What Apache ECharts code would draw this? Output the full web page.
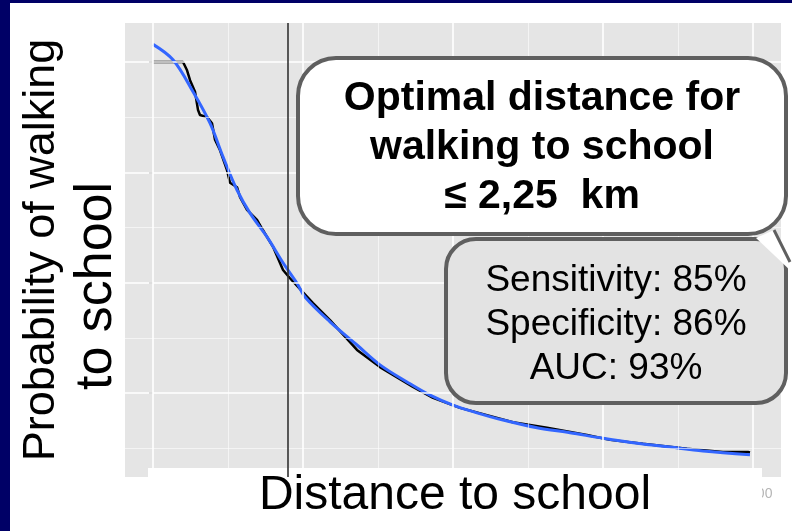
<!DOCTYPE html>
<html><head><meta charset="utf-8">
<script src="https://cdn.jsdelivr.net/npm/echarts@6/dist/echarts.min.js"></script>
<style>html,body{margin:0;padding:0;background:#fff}#c{width:792px;height:531px}</style>
</head><body><div id="c"></div>
<script>
// ---- data (distance in metres, probability) ----
const fittedDistance = [0, 333, 667, 950, 1167, 1400, 1617, 1900, 2167, 2400, 2533, 2950, 3400, 3783, 4233, 4617, 5000, 5400, 5833, 6400, 6950, 7500, 8067, 8617, 9167, 9950];
const fittedProb     = [0.832, 0.804, 0.746, 0.689, 0.628, 0.568, 0.526, 0.483, 0.436, 0.399, 0.374, 0.329, 0.287, 0.251, 0.220, 0.196, 0.178, 0.164, 0.151, 0.137, 0.128, 0.118, 0.109, 0.102, 0.095, 0.088];
const observedDistance = [0, 500, 567, 617, 700, 750, 783, 900, 983, 1033, 1117, 1233, 1283, 1400, 1450, 1567, 1733, 1833, 2000, 2167, 2283, 2667, 2950, 3400, 3783, 4333, 4667, 5117, 6000, 6567, 7233, 7617, 8167, 8900, 9500, 9917, 9950];
const observedProb     = [0.800, 0.800, 0.785, 0.767, 0.746, 0.713, 0.704, 0.700, 0.689, 0.659, 0.640, 0.604, 0.581, 0.573, 0.555, 0.532, 0.514, 0.495, 0.465, 0.423, 0.408, 0.363, 0.332, 0.278, 0.247, 0.211, 0.191, 0.173, 0.147, 0.137, 0.124, 0.115, 0.108, 0.099, 0.093, 0.093, 0.092];
const cutoffDistance = 2250;
const xMajor = [0, 2500, 5000, 7500, 10000];
const xMinor = [1250, 3750, 6250, 8750];
const yMajor = [0.2, 0.4, 0.6, 0.8];
const yMinor = [0.1, 0.3, 0.5, 0.7];
const xTickLabels = [10000];
const xTitle = 'Distance to school';
const yTitleLines = ['Probability of walking', 'to school'];
const calloutMain = ['Optimal distance for', 'walking to school', '≤ 2,25  km'];
const calloutStats = ['Sensitivity: 85%', 'Specificity: 86%', 'AUC: 93%'];

const FONT = '"Liberation Sans", Arial, Helvetica, sans-serif';
const chart = echarts.init(document.getElementById('c'), null, {renderer: 'canvas'});

const zip = (a, b) => a.map((v, i) => [v, b[i]]);
const major = {color: '#FFFFFF', width: 1.6, type: 'solid'};
const minor = {color: 'rgba(255,255,255,0.65)', width: 0.9, type: 'solid'};

chart.setOption({
  animation: false,
  backgroundColor: '#FFFFFF',
  grid: {left: 125, right: 11, top: 23, bottom: 54, show: true, backgroundColor: '#E5E5E5', borderWidth: 0},
  xAxis: {
    type: 'value', min: -467, max: 10467,
    axisLine: {show: false}, axisTick: {show: false}, splitLine: {show: false},
    axisLabel: {customValues: xTickLabels, formatter: v => String(v), color: '#B5B5B5', fontSize: 14, fontFamily: FONT, margin: 10}
  },
  yAxis: {
    type: 'value', min: 0.0477, max: 0.8707,
    axisLine: {show: false}, splitLine: {show: false},
    axisTick: {show: true, customValues: yMajor, length: 4, lineStyle: {color: '#555555', width: 1.5}},
    axisLabel: {show: false},
    name: '{a|' + yTitleLines[0] + '}\n{b|' + yTitleLines[1] + '}',
    nameLocation: 'middle', nameRotate: 90, nameGap: 3,
    nameTextStyle: {
      color: '#000', fontFamily: FONT,
      rich: {
        a: {fontSize: 45, lineHeight: 58, fontFamily: FONT, color: '#000'},
        b: {fontSize: 52, lineHeight: 51, fontFamily: FONT, color: '#000', padding: [0, 72, 0, 0]}
      }
    }
  },
  series: [
    {
      type: 'line', data: [], z: 1, silent: true,
      markLine: {
        silent: true, symbol: ['none', 'none'], label: {show: false}, animation: false,
        data: [
          ...xMinor.map(v => ({xAxis: v, lineStyle: minor})),
          ...yMinor.map(v => ({yAxis: v, lineStyle: minor})),
          ...xMajor.map(v => ({xAxis: v, lineStyle: major})),
          ...yMajor.map(v => ({yAxis: v, lineStyle: major}))
        ]
      }
    },
    {
      type: 'line', data: [], z: 2, silent: true,
      markLine: {
        silent: true, symbol: ['none', 'none'], label: {show: false}, animation: false,
        data: [{xAxis: cutoffDistance, lineStyle: {color: '#333333', width: 1.6, type: 'solid'}}]
      }
    },
    {
      name: 'Observed', type: 'line', z: 3, data: zip(observedDistance, observedProb),
      showSymbol: false, lineStyle: {color: '#000000', width: 2.5}
    },
    {
      name: 'Fitted', type: 'line', z: 4, data: zip(fittedDistance, fittedProb), smooth: 0.35,
      showSymbol: false, lineStyle: {color: '#3366FF', width: 3}
    }
  ],
  graphic: [
    {type: 'rect', z: 50, shape: {x: 0, y: 0, width: 10, height: 531}, style: {fill: '#000066'}},
    {type: 'rect', z: 50, shape: {x: 0, y: 0, width: 792, height: 3}, style: {fill: '#000066'}},
    {type: 'rect', z: 5, shape: {x: 148, y: 468, width: 614, height: 63}, style: {fill: '#FFFFFF'}},
    {type: 'text', z: 6, x: 455, y: 496, style: {text: xTitle, font: '48px ' + FONT, fill: '#000', align: 'center', verticalAlign: 'middle'}},
    {type: 'rect', z: 10, shape: {x: 446, y: 239, width: 340, height: 164, r: 30}, style: {fill: '#E3E3E3', stroke: '#5F5F5F', lineWidth: 4}},
    {type: 'polygon', z: 11, shape: {points: [[756, 238], [774, 230], [792, 266], [792, 272]]}, style: {fill: '#FFFFFF'}},
    {type: 'polyline', z: 11, shape: {points: [[774, 230], [790, 262]]}, style: {stroke: '#5F5F5F', lineWidth: 3}},
    {type: 'rect', z: 12, shape: {x: 298, y: 58, width: 488, height: 176, r: 38}, style: {fill: '#FFFFFF', stroke: '#5F5F5F', lineWidth: 4}},
    {type: 'text', z: 13, x: 542, y: 148, style: {text: calloutMain.join('\n'), font: 'bold 41px ' + FONT, lineHeight: 49, fill: '#000', align: 'center', verticalAlign: 'middle'}},
    {type: 'text', z: 13, x: 616, y: 325, style: {text: calloutStats.join('\n'), font: '37px ' + FONT, lineHeight: 44, fill: '#000', align: 'center', verticalAlign: 'middle'}}
  ]
});
</script></body></html>
